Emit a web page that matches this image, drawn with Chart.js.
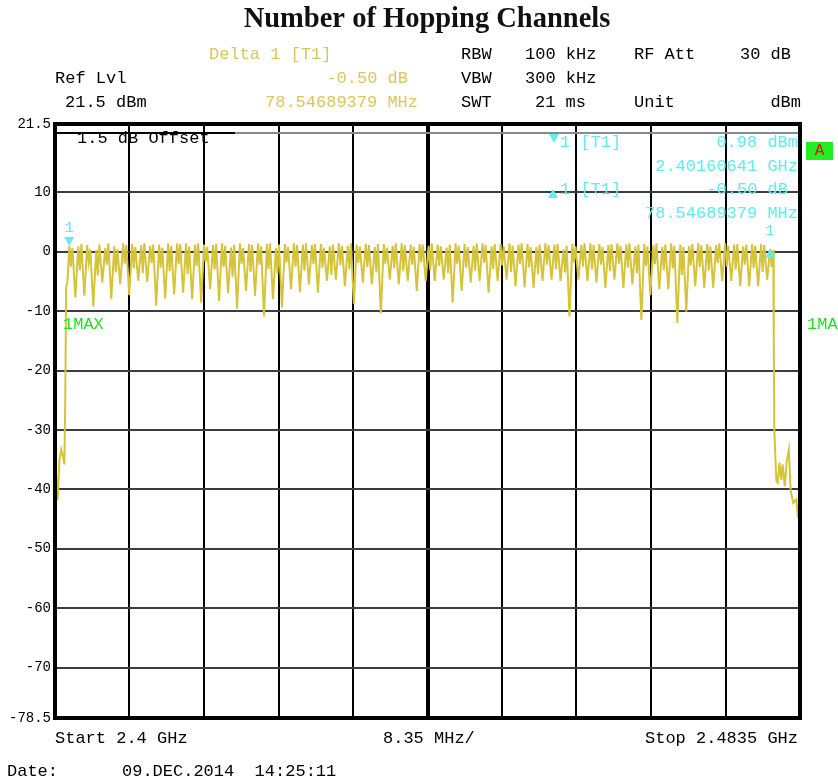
<!DOCTYPE html>
<html>
<head>
<meta charset="utf-8">
<title>Number of Hopping Channels</title>
<script src="https://cdn.jsdelivr.net/npm/chart.js@4.4.1/dist/chart.umd.min.js"></script>
<style>
  html, body { margin: 0; padding: 0; background: #fff; }
  canvas { display: block; }
</style>
</head>
<body>
<canvas id="hoppingChart" width="838" height="784"></canvas>
<script>
/**
 * Hopping channel sweep, 2.4 GHz ISM band (spectrum analyser MAX HOLD trace)
 */

// Span
const startMHz = 2400;
const stopMHz = 2483.5;

// Vertical grid: 10 divisions of 8.35 MHz
const gridMHz = [2400, 2408.35, 2416.7, 2425.05, 2433.4, 2441.75, 2450.1, 2458.45, 2466.8, 2475.15, 2483.5];

// Level axis (dBm)
const refLevel = 21.5;
const bottomLevel = -78.5;
const levelTicks = [21.5, 20, 10, 0, -10, -20, -30, -40, -50, -60, -70, -78.5];

// Channel peak frequencies (MHz)
const channelMHz = [
  2401.60, 2402.61, 2403.61, 2404.62, 2405.63, 2406.64, 2407.64, 2408.65, 2409.66, 2410.66,
  2411.67, 2412.68, 2413.68, 2414.69, 2415.70, 2416.71, 2417.71, 2418.72, 2419.73, 2420.73,
  2421.74, 2422.75, 2423.75, 2424.76, 2425.77, 2426.78, 2427.78, 2428.79, 2429.80, 2430.80,
  2431.81, 2432.82, 2433.82, 2434.83, 2435.84, 2436.85, 2437.85, 2438.86, 2439.87, 2440.87,
  2441.88, 2442.89, 2443.89, 2444.90, 2445.91, 2446.92, 2447.92, 2448.93, 2449.94, 2450.94,
  2451.95, 2452.96, 2453.96, 2454.97, 2455.98, 2456.99, 2457.99, 2459.00, 2460.01, 2461.01,
  2462.02, 2463.03, 2464.03, 2465.04, 2466.05, 2467.06, 2468.06, 2469.07, 2470.08, 2471.08,
  2472.09, 2473.10, 2474.10, 2475.11, 2476.12, 2477.13, 2478.13, 2479.14, 2480.15
];

// GFSK shows two lobes per channel; the second one sits this far above the first
const lobeOffsetMHz = 0.35;

// First lobe level of each channel (dBm)
const channelPeakDbm = [
  0.98, 0.9, 1.1, 0.3, 0.6, 0.9, 1.4, 1.3, 1.1, 1.0,
  1.2, 1.4, 1.4, 1.4, 1.2, 1.2, 1.1, 1.4, 0.7, 1.4,
  1.3, 1.4, 1.3, 0.6, 1.3, 1.4, 1.2, 1.1, 1.3, 0.9,
  1.4, 1.0, 1.2, 1.3, 0.8, 1.3, 1.0, 1.4, 1.2, 1.3,
  1.0, 1.2, 0.7, 1.4, 1.3, 1.0, 1.4, 0.9, 1.3, 1.4,
  1.2, 1.3, 0.8, 1.4, 1.2, 0.4, 1.3, 1.2, 1.4, 1.3,
  1.1, 1.4, 1.2, 0.9, 1.3, 1.1, 0.8, 1.4, 1.2, 1.0,
  1.4, 1.3, 1.1, 1.4, 1.2, 0.9, 1.3, 1.3, 0.48
];

// Notch between the two lobes (dBm)
const channelNotchDbm = [
  -2.5, -3.1, -1.8, -4.0, -2.2, -3.5, -2.0, -2.8, -3.6, -1.9,
  -2.7, -3.3, -2.1, -3.8, -2.4, -1.7, -3.0, -2.6, -4.2, -2.0,
  -3.4, -2.2, -2.9, -3.7, -1.8, -2.5, -3.2, -2.1, -2.7, -3.9,
  -2.3, -3.0, -1.9, -2.6, -3.5, -2.0, -2.8, -3.3, -2.2, -1.8,
  -3.1, -2.4, -3.6, -2.0, -2.7, -3.2, -1.9, -2.9, -2.3, -3.4,
  -2.1, -2.6, -3.8, -2.2, -2.9, -3.5, -1.8, -2.5, -3.0, -2.2,
  -3.3, -2.0, -2.7, -3.6, -2.4, -2.1, -3.1, -2.8, -3.9, -2.3,
  -2.6, -3.2, -1.9, -2.5, -3.0, -2.2, -2.8, -3.4, -2.6
];

// Second lobe level of each channel (dBm)
const channelLobeDbm = [
  0.6, 1.3, 0.4, 1.2, 1.4, 0.5, 1.1, 0.8, 1.4, 1.2,
  0.7, 1.0, 1.3, 0.9, 1.4, 0.8, 1.3, 1.0, 1.2, 0.6,
  1.1, 0.9, 1.4, 1.2, 0.8, 1.1, 1.4, 1.3, 0.7, 1.2,
  1.0, 1.4, 0.9, 1.1, 1.3, 0.7, 1.4, 1.1, 0.8, 1.2,
  1.4, 0.9, 1.2, 1.0, 0.8, 1.4, 1.1, 1.3, 0.9, 1.0,
  1.4, 0.8, 1.2, 1.1, 1.3, 1.0, 0.9, 1.4, 1.1, 0.8,
  1.3, 1.0, 1.4, 1.2, 0.9, 1.4, 1.2, 1.0, 0.8, 1.3,
  1.1, 0.9, 1.4, 1.0, 1.3, 1.2, 1.0, 1.1, 0.3
];

// Lowest level between neighbouring channels (dBm)
const channelDipDbm = [
  -7.7, -7.4, -9.2, -5.2, -8.0, -5.5, -7.3, -4.9, -5.1, -9.1,
  -7.9, -7.2, -6.9, -8.0, -8.6, -6.3, -8.3, -7.0, -9.6, -6.6,
  -7.4, -10.9, -8.0, -9.4, -6.3, -6.8, -5.5, -6.9, -4.9, -4.7,
  -5.8, -8.8, -5.2, -5.5, -10.4, -4.7, -5.5, -4.9, -6.6, -4.9,
  -4.9, -4.7, -8.6, -6.6, -5.2, -4.9, -6.9, -4.9, -4.7, -5.8,
  -6.0, -6.1, -4.9, -4.7, -4.9, -10.9, -4.7, -4.9, -5.2, -6.1,
  -4.7, -6.1, -5.5, -11.5, -7.3, -6.3, -6.3, -12.0, -10.1, -5.8,
  -6.1, -6.1, -4.9, -4.9, -5.8, -5.8, -5.8, -4.7
];

// Band edges: noise floor below the first channel and above the last one
const lowEdgeMHz = [2400.0, 2400.11, 2400.3, 2400.5, 2400.7, 2400.9, 2401.05, 2401.15, 2401.25, 2401.4];
const lowEdgeDbm = [-38.5, -37.5, -41.8, -35.0, -33.3, -34.5, -35.8, -24.9, -6.0, -5.0];
const highEdgeMHz = [2480.56, 2480.62, 2480.85, 2481.0, 2481.2, 2481.4, 2481.55, 2481.8, 2482.0, 2482.25, 2482.45, 2482.75, 2483.1, 2483.25, 2483.5];
const highEdgeDbm = [-15.0, -30.0, -38.6, -38.9, -35.5, -38.4, -35.8, -39.5, -35.4, -33.3, -40.2, -42.3, -41.7, -44.6, -44.6];

// Marker 1 and delta marker (frequency MHz, level dBm)
const markerMHz = [2401.60, 2480.15];
const markerDbm = [0.98, 0.48];

const traceColor = "#d5c43a";
const infoYellow = "#d8c85a";
const markerCyan = "#62ecec";
const flagGreen = "#22e022";
const monoFont = "'Liberation Mono', 'DejaVu Sans Mono', monospace";

/**
 * Builds the trace as x/y points from the edge and channel arrays
 * @return {Array<Object>}
 */
const buildTrace = () => {
  const points = [];
  lowEdgeMHz.forEach((f, i) => points.push({ x: f, y: lowEdgeDbm[i] }));
  channelMHz.forEach((f, i) => {
    points.push({ x: f, y: channelPeakDbm[i] });
    points.push({ x: f + lobeOffsetMHz / 2, y: channelNotchDbm[i] });
    points.push({ x: f + lobeOffsetMHz, y: channelLobeDbm[i] });
    if (i < channelDipDbm.length) {
      points.push({ x: (f + lobeOffsetMHz + channelMHz[i + 1]) / 2, y: channelDipDbm[i] });
    }
  });
  highEdgeMHz.forEach((f, i) => points.push({ x: f, y: highEdgeDbm[i] }));
  return points;
};

const drawText = (ctx, text, x, y, color, align = "left", font = `17px ${monoFont}`) => {
  ctx.font = font;
  ctx.fillStyle = color;
  ctx.textAlign = align;
  ctx.textBaseline = "middle";
  ctx.fillText(text, x, y);
};

const drawTriangle = (ctx, x, tipY, pointsDown) => {
  const baseY = pointsDown ? tipY - 9 : tipY + 9;
  ctx.beginPath();
  ctx.moveTo(x - 5, baseY);
  ctx.lineTo(x + 5, baseY);
  ctx.lineTo(x, tipY);
  ctx.closePath();
  ctx.fill();
};

/**
 * Analyser screen furniture: title, settings, marker readout, frame
 */
const screenPlugin = {
  id: "analyserScreen",
  afterDraw: (chart) => {
    const { ctx, chartArea, scales } = chart;
    const { left, right, top, bottom } = chartArea;
    ctx.save();

    // title
    ctx.font = "bold 28.5px 'Liberation Serif', 'Times New Roman', serif";
    ctx.fillStyle = "#111";
    ctx.textAlign = "center";
    ctx.textBaseline = "alphabetic";
    ctx.fillText("Number of Hopping Channels", 427, 27);

    // settings block
    drawText(ctx, "Delta 1 [T1]", 209, 54, infoYellow);
    drawText(ctx, "Ref Lvl", 55, 78, "#000");
    drawText(ctx, "-0.50 dB", 408, 78, infoYellow, "right");
    drawText(ctx, "21.5 dBm", 65, 102, "#000");
    drawText(ctx, "78.54689379 MHz", 418, 102, infoYellow, "right");
    drawText(ctx, "RBW", 461, 54, "#000");
    drawText(ctx, "100 kHz", 525, 54, "#000");
    drawText(ctx, "RF Att", 634, 54, "#000");
    drawText(ctx, "30 dB", 791, 54, "#000", "right");
    drawText(ctx, "VBW", 461, 78, "#000");
    drawText(ctx, "300 kHz", 525, 78, "#000");
    drawText(ctx, "SWT", 461, 102, "#000");
    drawText(ctx, "21 ms", 535, 102, "#000");
    drawText(ctx, "Unit", 634, 102, "#000");
    drawText(ctx, "dBm", 801, 102, "#000", "right");

    // offset display line
    ctx.strokeStyle = "#000";
    ctx.lineWidth = 2;
    ctx.beginPath();
    ctx.moveTo(left, scales.y.getPixelForValue(20));
    ctx.lineTo(235, scales.y.getPixelForValue(20));
    ctx.stroke();
    drawText(ctx, "1.5 dB Offset", 77, 138, "#000");

    // marker readout
    ctx.fillStyle = markerCyan;
    drawTriangle(ctx, 554, 143, true);
    drawText(ctx, "1 [T1]", 560, 142, markerCyan);
    drawText(ctx, "0.98 dBm", 798, 142, markerCyan, "right");
    drawText(ctx, "2.40160641 GHz", 798, 166, markerCyan, "right");
    ctx.fillStyle = markerCyan;
    drawTriangle(ctx, 553, 189, false);
    drawText(ctx, "1 [T1]", 560, 189, markerCyan);
    drawText(ctx, "-0.50 dB", 788, 189, markerCyan, "right");
    drawText(ctx, "78.54689379 MHz", 798, 213, markerCyan, "right");

    // markers on the trace
    markerMHz.forEach((f, i) => {
      const mx = scales.x.getPixelForValue(f);
      const my = scales.y.getPixelForValue(markerDbm[i]);
      ctx.fillStyle = markerCyan;
      drawTriangle(ctx, mx, my, i === 0);
      drawText(ctx, "1", mx, my - 18, markerCyan, "center", `15px ${monoFont}`);
    });

    // trace flags
    drawText(ctx, "1MAX", 63, 324, flagGreen);
    drawText(ctx, "1MA", 807, 324, flagGreen);
    ctx.fillStyle = "#22ee22";
    ctx.fillRect(806, 142, 27, 18);
    drawText(ctx, "A", 819.5, 151, "#e01010", "center", `16px ${monoFont}`);

    // frame
    ctx.strokeStyle = "#000";
    ctx.lineWidth = 4;
    ctx.strokeRect(left, top, right - left, bottom - top);

    // footer
    drawText(ctx, "Start 2.4 GHz", 55, 738, "#000");
    drawText(ctx, "8.35 MHz/", 383, 738, "#000");
    drawText(ctx, "Stop 2.4835 GHz", 798, 738, "#000", "right");
    drawText(ctx, "Date:", 7, 771, "#000");
    drawText(ctx, "09.DEC.2014  14:25:11", 122, 771, "#000");

    ctx.restore();
  },
};

const initializeChart = () => {
  const ctx = document.getElementById("hoppingChart").getContext("2d");

  return new Chart(ctx, {
    type: "line",
    data: {
      datasets: [
        {
          label: "1MAX",
          data: buildTrace(),
          borderColor: traceColor,
          borderWidth: 2,
          pointRadius: 0,
          tension: 0,
          fill: false,
        },
      ],
    },
    options: {
      responsive: false,
      animation: false,
      devicePixelRatio: 1,
      layout: {
        padding: { left: 0, right: 38, top: 124, bottom: 66 },
      },
      scales: {
        x: {
          type: "linear",
          min: startMHz,
          max: stopMHz,
          afterBuildTicks: (scale) => {
            scale.ticks = gridMHz.map((v) => ({ value: v }));
          },
          afterFit: (scale) => {
            scale.height = 0;
          },
          ticks: { display: false },
          border: { display: false },
          grid: {
            drawTicks: false,
            color: "#000",
            lineWidth: (context) => {
              const v = context.tick ? context.tick.value : null;
              if (v === startMHz || v === stopMHz) return 0;
              return v === gridMHz[5] ? 4 : 2;
            },
          },
        },
        y: {
          min: bottomLevel,
          max: refLevel,
          afterBuildTicks: (scale) => {
            scale.ticks = levelTicks.map((v) => ({ value: v }));
          },
          afterFit: (scale) => {
            scale.width = 55;
          },
          border: { display: false },
          ticks: {
            autoSkip: false,
            padding: 4,
            color: "#000",
            font: { family: "Liberation Mono", size: 14 },
            callback: (value) => (value === 20 ? "" : String(value)),
          },
          grid: {
            drawTicks: false,
            color: (context) => {
              const v = context.tick ? context.tick.value : null;
              return v === 20 ? "#8a8a8a" : "#3c3c3c";
            },
            lineWidth: (context) => {
              const v = context.tick ? context.tick.value : null;
              return v === refLevel || v === bottomLevel ? 0 : 2;
            },
          },
        },
      },
      plugins: {
        legend: { display: false },
        tooltip: { enabled: false },
      },
    },
    plugins: [screenPlugin],
  });
};

initializeChart();
</script>
</body>
</html>
